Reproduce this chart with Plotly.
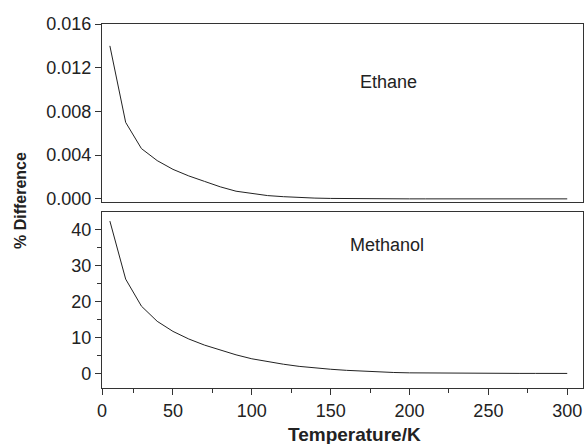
import plotly.graph_objects as go

# Data
temperature = [10, 20, 30, 40, 50, 60, 70, 80, 90, 100, 110, 120, 130, 140, 150,
               160, 170, 180, 190, 200, 210, 220, 230, 240, 250, 260, 270, 280, 290, 300]
ethane_diff = [0.0140, 0.0070, 0.0046, 0.0035, 0.0027, 0.0021, 0.0016, 0.0011, 0.0007, 0.0005,
               0.0003, 0.0002, 0.00012, 0.00007, 0.00004, 0.00002, 0.00001, 0.00001, 0.0, 0.0,
               0.0, 0.0, 0.0, 0.0, 0.0, 0.0, 0.0, 0.0, 0.0, 0.0]
methanol_diff = [42.3, 26.2, 18.7, 14.5, 11.7, 9.6, 7.9, 6.5, 5.2, 4.1,
                 3.3, 2.6, 2.0, 1.5, 1.2, 0.9, 0.65, 0.45, 0.3, 0.2,
                 0.15, 0.12, 0.1, 0.08, 0.07, 0.06, 0.05, 0.05, 0.04, 0.04]

x_tickvals = [5, 50, 100, 150, 200, 250, 300]
x_ticktext = ["0", "50", "100", "150", "200", "250", "300"]
x_minor = [25, 75, 125, 175, 225, 275]
top_tickvals = [0.000, 0.004, 0.008, 0.012, 0.016]
top_ticktext = ["0.000", "0.004", "0.008", "0.012", "0.016"]
bot_tickvals = [0, 10, 20, 30, 40]
bot_minor = [-5, 5, 15, 25, 35]

FONT = "Liberation Sans, Arial, sans-serif"
INK = "#222222"
AX = "#333333"

L, R, T, B = 102, 2, 24, 56
W, H = 585, 444

fig = go.Figure()
fig.add_trace(go.Scatter(x=temperature, y=ethane_diff, mode="lines",
                         line=dict(color=INK, width=1), xaxis="x", yaxis="y", showlegend=False))
fig.add_trace(go.Scatter(x=temperature, y=methanol_diff, mode="lines",
                         line=dict(color=INK, width=1), xaxis="x2", yaxis="y2", showlegend=False))

common_axis = dict(showline=True, linecolor=AX, linewidth=1.3, mirror=True, automargin=False,
                   showgrid=False, zeroline=False, ticks="outside", ticklen=6,
                   tickwidth=1, tickcolor=AX, tickfont=dict(family=FONT, size=18, color=INK))

fig.update_layout(
    width=W, height=H,
    margin=dict(l=L, r=R, t=T, b=B, autoexpand=False),
    paper_bgcolor="white", plot_bgcolor="white",
    xaxis=dict(common_axis, domain=[0, 1], range=[5, 310], anchor="y",
               tickvals=x_tickvals, showticklabels=False, ticks=""),
    yaxis=dict(common_axis, domain=[0.5118, 1], range=[-0.00026, 0.016], anchor="x",
               tickvals=top_tickvals, ticktext=top_ticktext),
    xaxis2=dict(common_axis, domain=[0, 1], range=[5, 310], anchor="y2",
                tickvals=x_tickvals, ticktext=x_ticktext,
                minor=dict(tickvals=x_minor, ticklen=4, tickcolor=AX, ticks="outside")),
    yaxis2=dict(common_axis, domain=[0, 0.4843], range=[-4, 44.9], anchor="x2",
                tickvals=bot_tickvals,
                minor=dict(tickvals=bot_minor, ticklen=4, tickcolor=AX, ticks="outside")),
)

pw, ph = W - L - R, H - T - B


def px(x, y):
    return (x - L) / pw, 1 - (y - T) / ph


annots = [
    ("Ethane", 388, 82, 0, 18),
    ("Methanol", 387, 245, 0, 18),
    ("<b>% Difference</b>", 20, 201, -90, 16),
    ("<b>Temperature/K</b>", 354, 434, 0, 19),
]
for text, x, y, ang, size in annots:
    ax_, ay_ = px(x, y)
    fig.add_annotation(text=text, x=ax_, y=ay_, xref="paper", yref="paper",
                       xanchor="center", yanchor="middle", showarrow=False,
                       textangle=ang, font=dict(family=FONT, size=size, color=INK))

fig.write_html("out.html", config={"displayModeBar": False},
               post_script="document.body.style.margin='0';document.body.style.overflow='hidden';")
